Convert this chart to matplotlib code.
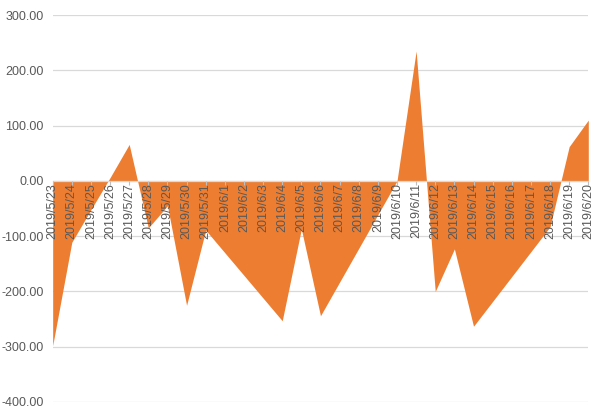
import matplotlib
matplotlib.use("Agg")
import matplotlib.pyplot as plt
import numpy as np

# dates on the category axis
dates = ["2019/5/23", "2019/5/24", "2019/5/25", "2019/5/26", "2019/5/27",
         "2019/5/28", "2019/5/29", "2019/5/30", "2019/5/31", "2019/6/1",
         "2019/6/2", "2019/6/3", "2019/6/4", "2019/6/5", "2019/6/6",
         "2019/6/7", "2019/6/8", "2019/6/9", "2019/6/10", "2019/6/11",
         "2019/6/12", "2019/6/13", "2019/6/14", "2019/6/15", "2019/6/16",
         "2019/6/17", "2019/6/18", "2019/6/19", "2019/6/20"]

# daily values
values = [-298, -111, -52, 6, 66,
          -85, -45, -225, -89, -130,
          -171, -212, -253, -87, -244,
          -183, -122, -61, 0, 235,
          -200, -123, -263, -218, -173,
          -128, -83, 62, 110]

yticks = [-400, -300, -200, -100, 0, 100, 200, 300]

plt.rcParams['font.family'] = ['Liberation Sans', 'DejaVu Sans']

fig = plt.figure(figsize=(6.09, 4.16), dpi=100)
ax = fig.add_axes([0.0865, 0.0337, 0.8795, 0.930])

x = np.arange(len(dates))
ax.fill_between(x, values, 0, color='#ED7D31', linewidth=0, zorder=1)

ax.set_xlim(0, len(dates) - 1)
ax.set_ylim(-400, 300)

# gridlines behind the fill, category labels above it
ax.set_axisbelow(True)
ax.yaxis.grid(True, color='#d9d9d9', linewidth=0.9)
ax.xaxis.set_zorder(2.5)

ax.set_yticks(yticks)
ax.set_yticklabels(["%.2f" % v for v in yticks])
ax.set_xticks(x)
ax.set_xticklabels(dates)

ax.tick_params(axis='y', length=0, pad=6.5, labelsize=9, labelcolor='#595959')
ax.tick_params(axis='x', direction='out', length=3, width=0.8, color='#bfbfbf',
               pad=-1.5, labelsize=9, labelcolor='#595959', labelrotation=90)

for side in ['top', 'right', 'left']:
    ax.spines[side].set_visible(False)
ax.spines['bottom'].set_position(('data', 0))
ax.spines['bottom'].set_color('#d9d9d9')
ax.spines['bottom'].set_linewidth(0.9)

fig.savefig("out.png", dpi=100)
